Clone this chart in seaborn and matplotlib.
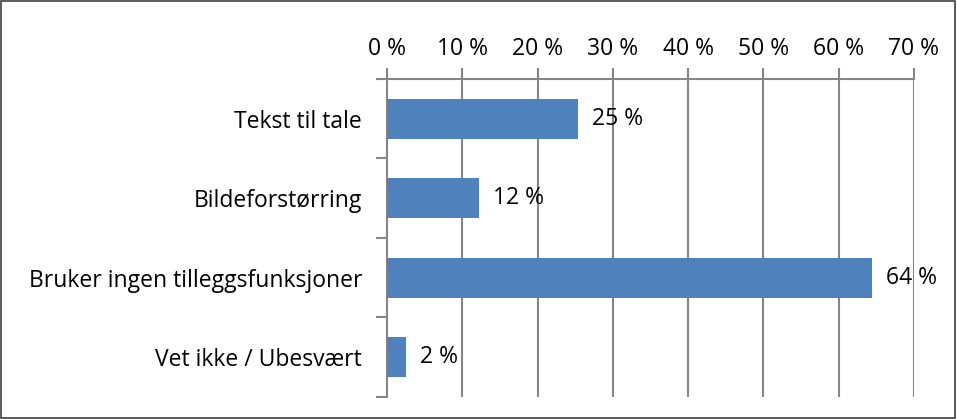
import matplotlib
matplotlib.use("Agg")
import matplotlib.pyplot as plt
import seaborn as sns
import pandas as pd
from matplotlib.patches import Rectangle

categories = ["Tekst til tale", "Bildeforstørring", "Bruker ingen tilleggsfunksjoner", "Vet ikke / Ubesvært"]
values = [25.4, 12.2, 64.4, 2.5]
labels = ["25 %", "12 %", "64 %", "2 %"]
xticks = [0, 10, 20, 30, 40, 50, 60, 70]

sns.set_theme(style="white")
plt.rcParams['font.family'] = ['Open Sans', 'DejaVu Sans']

df = pd.DataFrame({"cat": categories, "val": values})

fig = plt.figure(figsize=(9.57, 4.19), dpi=100)
ax = fig.add_axes([0.4044, 0.0525, 0.955 - 0.4044, 0.8115 - 0.0525])
sns.barplot(data=df, y="cat", x="val", color="#4F81BD", saturation=1, width=0.5,
            linewidth=0, ax=ax, zorder=3)

fs = 16.5
grid_c = "#868686"
ax.set_xlim(0, 70)
ax.set_ylim(3.5, -0.5)
ax.set_xticks(xticks)
ax.set_xticklabels([f"{t} %" for t in xticks])
ax.xaxis.tick_top()
ax.tick_params(axis="x", top=True, bottom=False, length=8, width=1.5, color=grid_c,
               labelsize=fs, pad=5, labelcolor="black")
for t in xticks[1:]:
    ax.axvline(t, color=grid_c, lw=1.5, zorder=1)
ax.set_yticks(range(len(categories)))
ax.set_yticklabels(categories)
ax.set_yticks([-0.5, 0.5, 1.5, 2.5, 3.5], minor=True)
ax.tick_params(axis="y", which="major", length=0, labelsize=fs, pad=18, labelcolor="black")
ax.tick_params(axis="y", which="minor", left=True, length=8, width=1.5, color=grid_c)
ax.set_xlabel("")
ax.set_ylabel("")
for s in ["right", "bottom"]:
    ax.spines[s].set_visible(False)
for s in ["left", "top"]:
    ax.spines[s].set_color(grid_c)
    ax.spines[s].set_linewidth(1.5)

for i, (v, lab) in enumerate(zip(values, labels)):
    ax.annotate(lab, xy=(v, i), xytext=(10, 0), textcoords="offset points",
                va="center", ha="left", fontsize=fs, color="black", zorder=5)

fig.patches.append(Rectangle((0.001, 0.002), 0.997, 0.996, transform=fig.transFigure,
                             fill=False, edgecolor="#404040", lw=1.2))

fig.savefig("out.png", dpi=100)
